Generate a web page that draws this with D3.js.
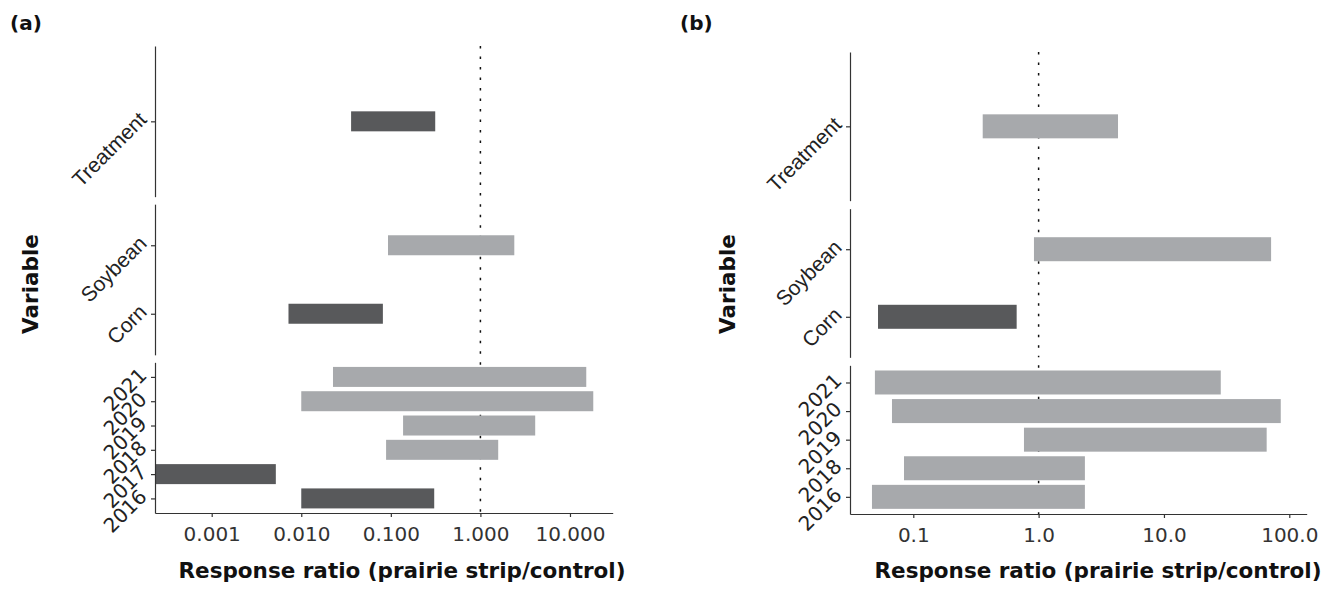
<!DOCTYPE html>
<html>
<head>
<meta charset="utf-8">
<script src="https://cdn.jsdelivr.net/npm/d3@7"></script>
<style>
  body { margin: 0; background: #fff; }
  svg { display: block; }
</style>
</head>
<body>
<div id="chart"></div>
<script>
// panel (a)
const variablesA = ["Treatment", "Soybean", "Corn", "2021", "2020", "2019", "2018", "2017", "2016"];
const groupsA = [0, 1, 1, 2, 2, 2, 2, 2, 2];
const lowA = [0.036, 0.093, 0.0072, 0.0226, 0.0100, 0.137, 0.0885, 0.0002, 0.0100];
const highA = [0.313, 2.39, 0.0815, 15.2, 18.2, 4.09, 1.58, 0.0052, 0.305];
const darkA = [1, 0, 1, 0, 0, 0, 0, 1, 1];
const ticksA = [0.001, 0.01, 0.1, 1, 10];
const tickLabelsA = ["0.001", "0.010", "0.100", "1.000", "10.000"];

// panel (b)
const variablesB = ["Treatment", "Soybean", "Corn", "2021", "2020", "2019", "2018", "2016"];
const groupsB = [0, 1, 1, 2, 2, 2, 2, 2];
const lowB = [0.358, 0.918, 0.0523, 0.0494, 0.0676, 0.764, 0.0843, 0.0468];
const highB = [4.30, 71.6, 0.668, 28.4, 85.5, 66.0, 2.34, 2.34];
const darkB = [0, 0, 1, 0, 0, 0, 0, 0];
const ticksB = [0.1, 1, 10, 100];
const tickLabelsB = ["0.1", "1.0", "10.0", "100.0"];

const W = 1326, H = 607;
const DARK = "#58595b", LIGHT = "#a7a9ac";

const svg = d3.select("#chart").append("svg")
    .attr("width", W).attr("height", H);

const defs = svg.append("defs");

function drawPanel(id, p) {
    const g = svg.append("g");
    const x = d3.scaleLog().domain(p.domain).range([p.x0, p.x1]);

    const rows = p.variables.map((v, i) => ({
        v, grp: p.groups[i], lo: p.low[i], hi: p.high[i], dark: p.dark[i]
    }));

    const nF = 3;
    const fh = (p.bottom - p.top - p.gap * (nF - 1)) / nF;

    defs.append("clipPath").attr("id", "clip" + id)
        .append("rect")
        .attr("x", p.x0).attr("y", p.top)
        .attr("width", p.x1 - p.x0).attr("height", p.bottom - p.top);

    for (let f = 0; f < nF; f++) {
        const fr = rows.filter(r => r.grp === f);
        const t = p.top + f * (fh + p.gap);
        const y = d3.scalePoint()
            .domain(fr.map(r => r.v))
            .range([t, t + fh])
            .padding(0.6);

        // reference line at 1
        g.append("line")
            .attr("x1", x(1)).attr("x2", x(1))
            .attr("y1", t).attr("y2", t + fh)
            .attr("stroke", "#111")
            .attr("stroke-width", 1.5)
            .attr("stroke-dasharray", "2.5 8");

        g.append("g")
            .attr("clip-path", `url(#clip${id})`)
            .selectAll("rect").data(fr).enter().append("rect")
            .attr("x", d => x(d.lo))
            .attr("width", d => x(d.hi) - x(d.lo))
            .attr("y", d => y(d.v) - p.barH / 2)
            .attr("height", p.barH)
            .attr("fill", d => d.dark ? DARK : LIGHT);

        const ax = g.append("g")
            .attr("transform", `translate(${p.x0},0)`)
            .call(d3.axisLeft(y).tickSize(4).tickSizeOuter(0));
        ax.select(".domain").attr("stroke", "#333").attr("stroke-width", 1.2);
        ax.selectAll(".tick line").attr("stroke", "#333").attr("stroke-width", 1.2);
        ax.selectAll(".tick text")
            .attr("x", null).attr("dy", null)
            .attr("transform", "translate(-7,-1) rotate(-45)")
            .attr("text-anchor", "end")
            .attr("fill", "#222")
            .style("font-family", d => /^\d+$/.test(d) ? "DejaVu Sans" : "Liberation Sans, Arial, sans-serif")
            .style("font-size", d => /^\d+$/.test(d) ? "20px" : "21px");
    }

    // x axis
    const xa = g.append("g")
        .attr("transform", `translate(0,${p.bottom})`)
        .call(d3.axisBottom(x)
            .tickValues(p.ticks)
            .tickFormat((d, i) => p.tickLabels[i])
            .tickSize(4).tickSizeOuter(0));
    xa.select(".domain").attr("stroke", "#333").attr("stroke-width", 1.2);
    xa.selectAll(".tick line").attr("stroke", "#333").attr("stroke-width", 1.2);
    xa.selectAll(".tick text")
        .attr("y", 14)
        .attr("fill", "#333")
        .style("font-family", "DejaVu Sans")
        .style("font-size", "20px");

    // titles
    svg.append("text")
        .attr("x", p.labelX).attr("y", 30)
        .style("font-family", "DejaVu Sans").style("font-weight", "bold")
        .style("font-size", "20px").attr("fill", "#111")
        .text(p.label);

    svg.append("text")
        .attr("transform", `translate(${p.varX},${284}) rotate(-90)`)
        .attr("text-anchor", "middle")
        .attr("dy", "0.35em")
        .style("font-family", "DejaVu Sans").style("font-weight", "bold")
        .style("font-size", "21.5px").attr("fill", "#111")
        .text("Variable");

    svg.append("text")
        .attr("x", p.titleX).attr("y", 578)
        .attr("text-anchor", "middle")
        .style("font-family", "DejaVu Sans").style("font-weight", "bold")
        .style("font-size", "21.5px").attr("fill", "#111")
        .text("Response ratio (prairie strip/control)");
}

drawPanel("a", {
    variables: variablesA, groups: groupsA, low: lowA, high: highA, dark: darkA,
    ticks: ticksA, tickLabels: tickLabelsA,
    domain: [Math.pow(10, -3.633), Math.pow(10, 1.477)],
    x0: 155, x1: 612.7, top: 46, bottom: 513, gap: 7.5, barH: 20,
    label: "(a)", labelX: 10, varX: 30, titleX: 402
});

drawPanel("b", {
    variables: variablesB, groups: groupsB, low: lowB, high: highB, dark: darkB,
    ticks: ticksB, tickLabels: tickLabelsB,
    domain: [Math.pow(10, -1.505), Math.pow(10, 2.139)],
    x0: 850, x1: 1306.7, top: 52, bottom: 514, gap: 8, barH: 24,
    label: "(b)", labelX: 680, varX: 727, titleX: 1098
});
</script>
</body>
</html>
